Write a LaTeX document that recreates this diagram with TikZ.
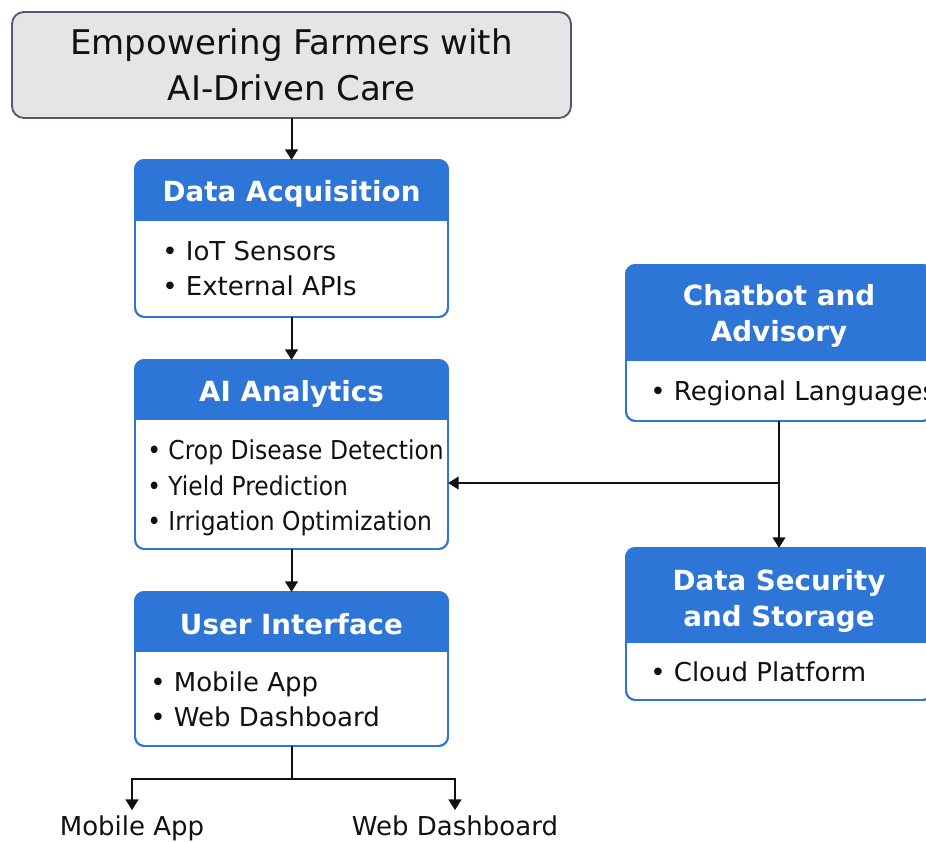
\documentclass[tikz,border=0pt]{standalone}
\usepackage{fontspec}
\setmainfont{DejaVu Sans}
\usetikzlibrary{arrows.meta,calc,fit}

\definecolor{hdrblue}{RGB}{46,117,216}
\definecolor{titlefill}{RGB}{229,229,229}
\definecolor{titleline}{RGB}{80,92,106}
\definecolor{ink}{RGB}{17,17,17}

\tikzset{
  card/.style={draw=hdrblue, line width=1.4pt, rounded corners=7pt, fill=white,
    inner sep=0pt, outer sep=0pt},
  titlebox/.style={draw=titleline, fill=titlefill, line width=1.4pt, rounded corners=9pt,
    inner sep=0pt, outer sep=0pt, align=center, text=ink,
    font=\fontsize{25.5}{34.5}\selectfont},
  hdrtext/.style={text=white, font=\bfseries\fontsize{20.8}{27}\selectfont,
    align=center, inner sep=0pt},
  item/.style={anchor=base west, text=ink, font=\fontsize{19.5}{26}\selectfont, inner sep=0pt},
  lbl/.style={anchor=base, text=ink, font=\fontsize{19.5}{26}\selectfont, inner sep=4pt},
  arr/.style={draw=ink, line width=1.5pt, -{Triangle[length=8pt,width=9.5pt]}},
  link/.style={draw=ink, line width=1.5pt},
}

% blue header band of a card: #1 card node, #2 band height
\newcommand\cardhead[2]{%
  \begin{scope}
    \clip[rounded corners=7pt] (#1.north west) rectangle (#1.south east);
    \fill[hdrblue] (#1.north west) rectangle ($(#1.north east)+(0,#2)$);
  \end{scope}
  \draw[hdrblue, line width=1.4pt, rounded corners=7pt] (#1.north west) rectangle (#1.south east);
}

\begin{document}
\begin{tikzpicture}[x=0.75pt, y=-0.75pt]
\useasboundingbox (0,0) rectangle (926,842);
\clip (0,0) rectangle (926,842);
\fill[white] (0,0) rectangle (926,842);

% title
\node[titlebox, minimum width=419.25pt, minimum height=79.5pt] (title) at (291.5,65)
  {Empowering Farmers with\\AI-Driven Care};

% data acquisition
\node[card, fit={(135,160) (448,317)}] (acq) {};
\cardhead{acq}{61}
\node[hdrtext, anchor=base] (acqh) at (291.5,201) {Data Acquisition};
\node[item] (acq1) at (162,260.5) {• IoT Sensors};
\node[item] (acq2) at (162,295.5) {• External APIs};

% analytics
\node[card, fit={(135,360) (448,549)}] (ai) {};
\cardhead{ai}{60}
\node[hdrtext, anchor=base] (aih) at (291.5,401) {AI Analytics};
\node[item] (ai1) at (147,459.5) {\scalebox{0.9}[1]{• Crop Disease Detection}};
\node[item] (ai2) at (147,495.5) {\scalebox{0.9}[1]{• Yield Prediction}};
\node[item] (ai3) at (147,530.5) {\scalebox{0.9}[1]{• Irrigation Optimization}};

% user interface
\node[card, fit={(135,592) (448,746)}] (ui) {};
\cardhead{ui}{60}
\node[hdrtext, anchor=base] (uih) at (291.5,634) {User Interface};
\node[item] (ui1) at (150,691.5) {• Mobile App};
\node[item] (ui2) at (150,726.5) {• Web Dashboard};

% chatbot
\node[card, fit={(626,265) (932,421)}] (chat) {};
\cardhead{chat}{96}
\node[hdrtext] (chath) at (779,316) {Chatbot and\\Advisory};
\node[item] (chat1) at (650,400.5) {• Regional Languages};

% security
\node[card, fit={(626,548) (932,700)}] (sec) {};
\cardhead{sec}{95}
\node[hdrtext] (sech) at (779,601) {Data Security\\and Storage};
\node[item] (sec1) at (650,681.5) {• Cloud Platform};

% output labels
\node[lbl] (mob) at (132,835.5) {Mobile App};
\node[lbl] (web) at (455,835.5) {Web Dashboard};

% connectors
\draw[arr] (title) -- (acq);
\draw[arr] (acq) -- (ai);
\draw[arr] (ai) -- (ui);

\coordinate (junc) at (779,483);
\draw[link] (chat) -- (junc);
\draw[arr] (junc) -- (junc -| ai.east);
\draw[arr] (junc) -- (sec);

\coordinate (split) at (291.5,779);
\draw[link] (ui) -- (split);
\draw[arr] (split) -| (mob.north);
\draw[arr] (split) -| (web.north);
\end{tikzpicture}
\end{document}
